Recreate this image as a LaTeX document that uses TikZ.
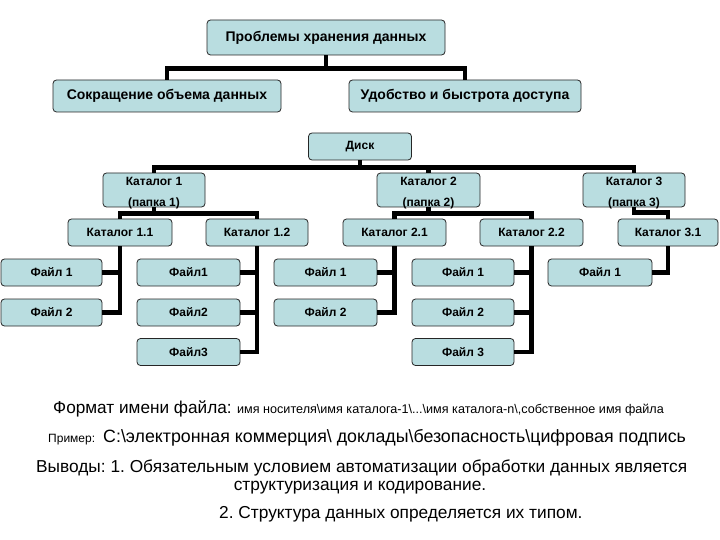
\documentclass[tikz,border=0pt]{standalone}
\usepackage{fontspec}
\setmainfont{Liberation Sans}
\frenchspacing
\begin{document}
\begin{tikzpicture}[x=1pt,y=-1pt,
  box/.style={draw=black!85,line width=0.8pt,rounded corners=3.5pt,fill=boxfill,
    inner sep=0pt,font=\bfseries\fontsize{12}{14}\selectfont,align=center},
  bigbox/.style={box,font=\bfseries\fontsize{14}{16}\selectfont},
  conn/.style={line width=4.5pt,draw=black},
  txt/.style={anchor=base west,inner sep=0pt}]
\definecolor{boxfill}{RGB}{185,221,224}
\newcommand{\twolines}[2]{\raisebox{-6pt}[0pt][0pt]{\begin{tabular}{@{}c@{}}#1\\[7pt]#2\end{tabular}}}
\useasboundingbox (0,0) rectangle (720,540);
% level 1-2
\node[bigbox,minimum width=238pt,minimum height=35pt] (top) at (326,37.5) {Проблемы хранения данных};
\node[bigbox,minimum width=228pt,minimum height=32pt] (sub1) at (167,96) {Сокращение объема данных};
\node[bigbox,minimum width=232pt,minimum height=32pt] (sub2) at (465,96) {Удобство и быстрота доступа};
% disk
\node[box,minimum width=103pt,minimum height=27pt] (disk) at (360,146.5) {Диск};
\node[box,minimum width=102pt,minimum height=34pt] (c1) at (154,190) {\twolines{Каталог 1}{(папка 1)}};
\node[box,minimum width=103pt,minimum height=34pt] (c2) at (428.5,190) {\twolines{Каталог 2}{(папка 2)}};
\node[box,minimum width=102pt,minimum height=34pt] (c3) at (634,190) {\twolines{Каталог 3}{(папка 3)}};
\node[box,minimum width=104pt,minimum height=27pt] (c11) at (120,232.5) {Каталог 1.1};
\node[box,minimum width=102pt,minimum height=27pt] (c12) at (257,232.5) {Каталог 1.2};
\node[box,minimum width=103pt,minimum height=27pt] (c21) at (394.5,232.5) {Каталог 2.1};
\node[box,minimum width=103pt,minimum height=27pt] (c22) at (531.5,232.5) {Каталог 2.2};
\node[box,minimum width=100pt,minimum height=27pt] (c31) at (668,232.5) {Каталог 3.1};
% files
\node[box,minimum width=101pt,minimum height=27pt] (f11) at (51.5,272.5) {Файл 1};
\node[box,minimum width=101pt,minimum height=27pt] (f12) at (51.5,312.5) {Файл 2};
\node[box,minimum width=103pt,minimum height=27pt] (fa1) at (188.5,272.5) {Файл1};
\node[box,minimum width=103pt,minimum height=27pt] (fa2) at (188.5,312.5) {Файл2};
\node[box,minimum width=103pt,minimum height=27pt] (fa3) at (188.5,352) {Файл3};
\node[box,minimum width=103pt,minimum height=27pt] (fb1) at (325.5,272.5) {Файл 1};
\node[box,minimum width=103pt,minimum height=27pt] (fb2) at (325.5,312.5) {Файл 2};
\node[box,minimum width=102pt,minimum height=27pt] (fc1) at (463,272.5) {Файл 1};
\node[box,minimum width=102pt,minimum height=27pt] (fc2) at (463,312.5) {Файл 2};
\node[box,minimum width=102pt,minimum height=27pt] (fc3) at (463,352) {Файл 3};
\node[box,minimum width=104pt,minimum height=27pt] (fd1) at (600,272.5) {Файл 1};
% connectors
\draw[conn] (top.south) -- +(0,13) -| (sub1.north);
\draw[conn] (top.south) -- +(0,13) -| (sub2.north);
\draw[conn] (disk.south) -- +(0,7) -| (c1.north);
\draw[conn] (disk.south) -- +(0,7) -| (c3.north);
\draw[conn] (disk.south) -- +(0,7) -| (c2.north);
\draw[conn] (c1.south) -- +(0,6) -| (c11.north);
\draw[conn] (c1.south) -- +(0,6) -| (c12.north);
\draw[conn] (c2.south) -- +(0,6) -| (c21.north);
\draw[conn] (c2.south) -- +(0,6) -| (c22.north);
\draw[conn] (c3.south) -- +(0,5) -| (c31.north);
\draw[conn] (c11.south) |- (f11.east);
\draw[conn] (c11.south) |- (f12.east);
\draw[conn] (c12.south) |- (fa1.east);
\draw[conn] (c12.south) |- (fa2.east);
\draw[conn] (c12.south) |- (fa3.east);
\draw[conn] (c21.south) |- (fb1.east);
\draw[conn] (c21.south) |- (fb2.east);
\draw[conn] (c22.south) |- (fc1.east);
\draw[conn] (c22.south) |- (fc2.east);
\draw[conn] (c22.south) |- (fc3.east);
\draw[conn] (c31.south) |- (fd1.east);
% texts
\node[txt,font=\fontsize{17.2}{19}\selectfont] (fmt) at (53,413) {Формат имени файла:};
\node[txt,font=\fontsize{12.6}{14}\selectfont] (fmtv) at (237,413) {имя носителя\textbackslash имя каталога-1\textbackslash...\textbackslash имя каталога-n\textbackslash,собственное имя файла};
\node[txt,font=\fontsize{12}{14}\selectfont] (ex) at (48,442) {Пример:};
\node[txt,font=\fontsize{17.8}{20}\selectfont] (exv) at (103,442) {C:\textbackslash электронная коммерция\textbackslash{} доклады\textbackslash безопасность\textbackslash цифровая подпись};
\node[txt,font=\fontsize{17.3}{19}\selectfont] (c1l) at (36,472) {Выводы: 1. Обязательным условием автоматизации обработки данных является};
\node[anchor=base,inner sep=0pt,font=\fontsize{17.3}{19}\selectfont] (c2l) at (360,490) {структуризация и кодирование.};
\node[txt,font=\fontsize{17.3}{19}\selectfont] (c3l) at (219,518) {2. Структура данных определяется их типом.};
\end{tikzpicture}
\end{document}
